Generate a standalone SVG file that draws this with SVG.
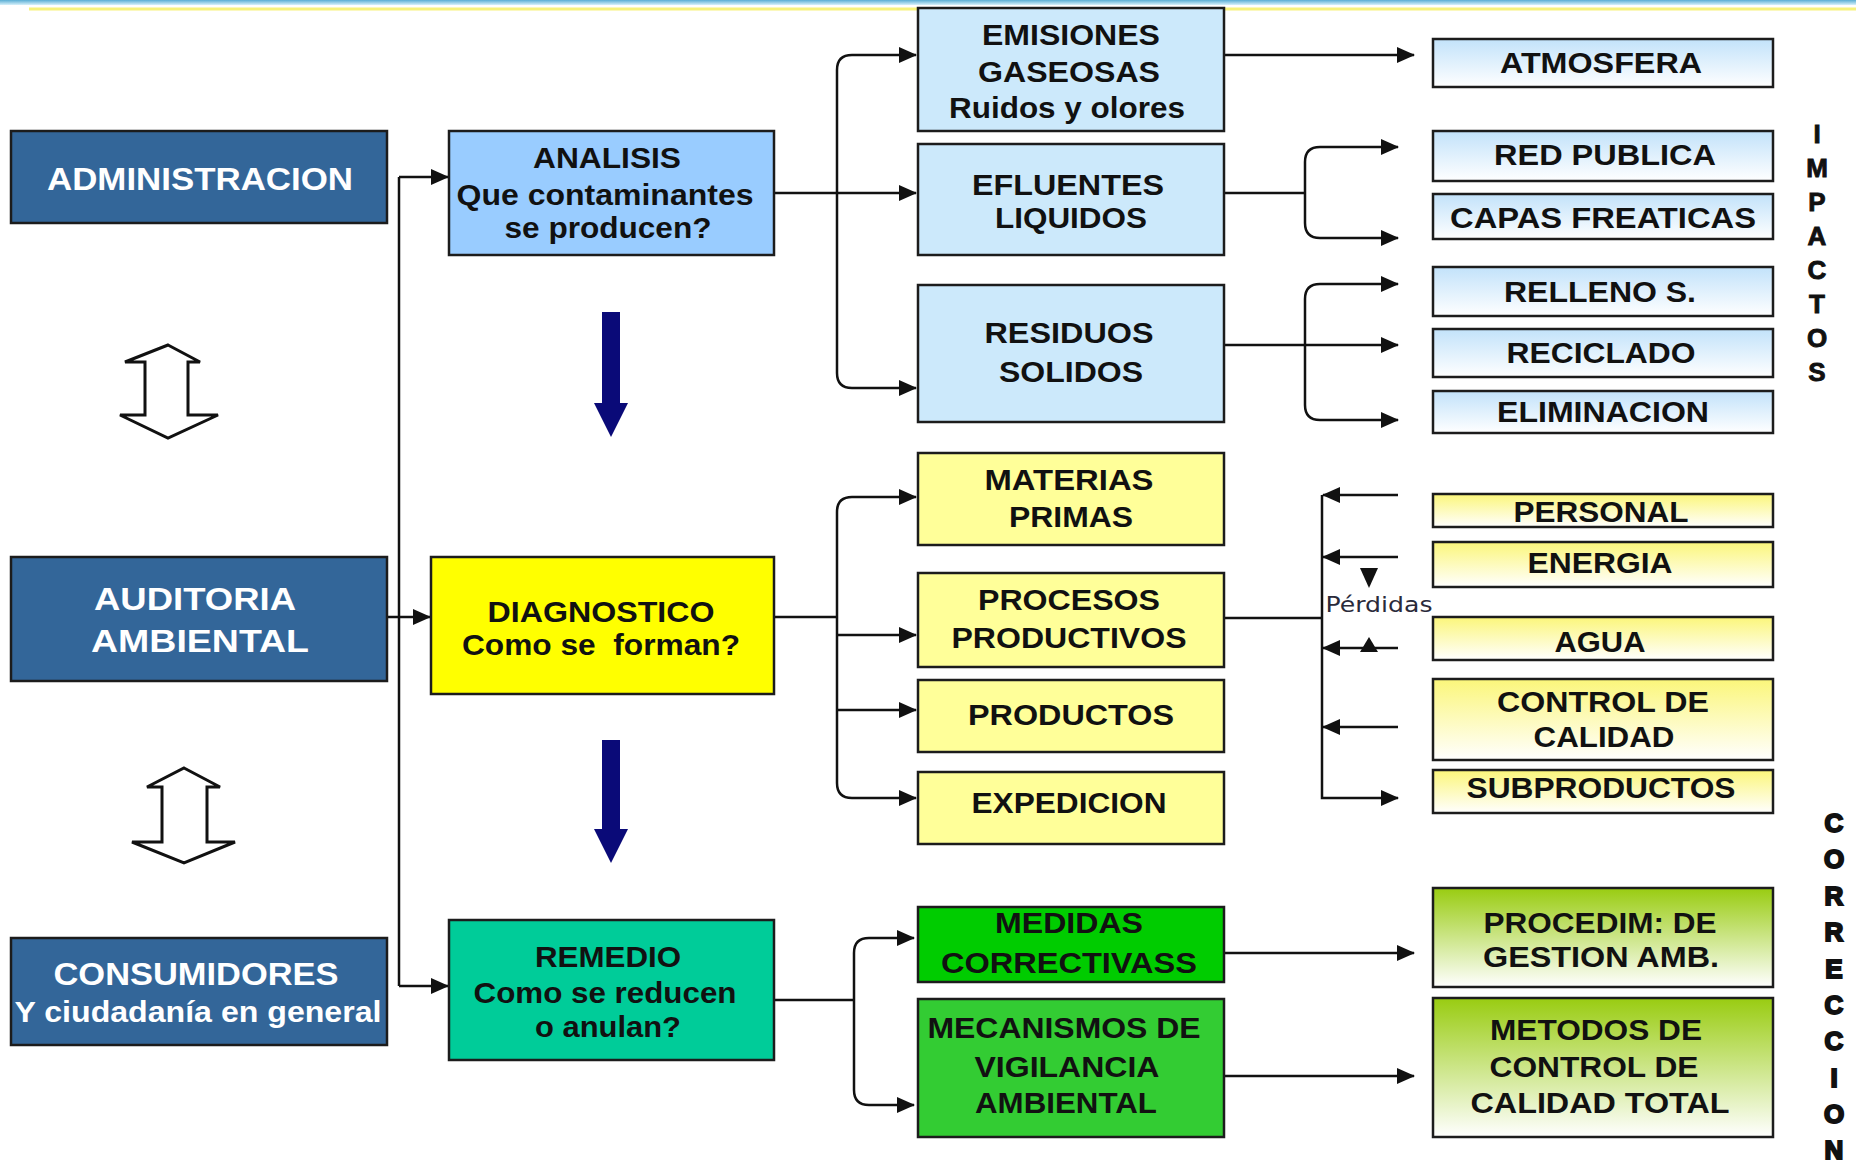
<svg xmlns="http://www.w3.org/2000/svg" width="1856" height="1165" viewBox="0 0 1856 1165">
<style>
.box{stroke:#1c1c1c;stroke-width:2.5}
.t{font-family:"Liberation Sans",Arial,sans-serif;font-weight:bold;font-size:29px;fill:#111;text-anchor:middle}
.w{fill:#ffffff;font-size:32px}
.c{fill:none;stroke:#111;stroke-width:2.5}
.ca{fill:none;stroke:#111;stroke-width:2.5;marker-end:url(#ah)}
.cb{fill:none;stroke:#111;stroke-width:2.5;marker-start:url(#ahs);marker-end:url(#ah)}
.vt{font-family:"Liberation Sans",Arial,sans-serif;font-weight:bold;font-size:26px;fill:#111;text-anchor:middle}
</style>
<defs>
<marker id="ah" markerUnits="userSpaceOnUse" markerWidth="18" markerHeight="16" refX="17" refY="8" orient="auto"><path d="M0,0 L18,8 L0,16 z" fill="#111"/></marker>
<marker id="ahs" markerUnits="userSpaceOnUse" markerWidth="18" markerHeight="16" refX="17" refY="8" orient="auto-start-reverse"><path d="M0,0 L18,8 L0,16 z" fill="#111"/></marker>
<linearGradient id="gBlue" x1="0" y1="0" x2="0" y2="1"><stop offset="0" stop-color="#c2e2fa"/><stop offset="1" stop-color="#ffffff"/></linearGradient>
<linearGradient id="gYel" x1="0" y1="0" x2="0" y2="1"><stop offset="0" stop-color="#fbf67a"/><stop offset="1" stop-color="#ffffff"/></linearGradient>
<linearGradient id="gGrn" x1="0" y1="0" x2="0" y2="1"><stop offset="0" stop-color="#99cc11"/><stop offset="1" stop-color="#ffffff"/></linearGradient>
<linearGradient id="gTop" x1="0" y1="0" x2="0" y2="1"><stop offset="0" stop-color="#5aaed4"/><stop offset="1" stop-color="#d8f1fb"/></linearGradient>
</defs>
<rect x="0" y="0" width="1856" height="1165" fill="#ffffff"/>
<rect x="0" y="0" width="1856" height="5" fill="url(#gTop)"/>
<line x1="29" y1="9" x2="1856" y2="9" stroke="#f7f27c" stroke-width="3"/>

<g id="connectors">
<path class="c" d="M399,177 L399,986"/>
<path class="ca" d="M399,177 L448,177"/>
<path class="ca" d="M399,986 L448,986"/>
<path class="ca" d="M387,617 L430,617"/>
<path class="ca" d="M774,193 L916,193"/>
<path class="cb" d="M916,55 L852,55 Q837,55 837,70 L837,373 Q837,388 852,388 L916,388"/>
<path class="ca" d="M1224,55 L1414,55"/>
<path class="c" d="M1224,193 L1305,193"/>
<path class="cb" d="M1398,147 L1320,147 Q1305,147 1305,162 L1305,223 Q1305,238 1320,238 L1398,238"/>
<path class="ca" d="M1224,345 L1398,345"/>
<path class="cb" d="M1398,284 L1320,284 Q1305,284 1305,299 L1305,405 Q1305,420 1320,420 L1398,420"/>
<path class="c" d="M774,617 L837,617"/>
<path class="cb" d="M916,497 L852,497 Q837,497 837,512 L837,783 Q837,798 852,798 L916,798"/>
<path class="ca" d="M837,635 L916,635"/>
<path class="ca" d="M837,710 L916,710"/>
<path class="c" d="M1224,618 L1322,618"/>
<path class="ca" d="M1322,495 L1322,798 L1398,798"/>
<path class="ca" d="M1398,495 L1323,495"/>
<path class="ca" d="M1398,557 L1323,557"/>
<path class="ca" d="M1398,648 L1323,648"/>
<path class="ca" d="M1398,727 L1323,727"/>
<polygon points="1360,568 1378,568 1369,588" fill="#111"/>
<polygon points="1360,652 1378,652 1369,637" fill="#111"/>
<text x="1379" y="612" font-family="'DejaVu Sans',sans-serif" font-size="22" fill="#2a2a3a" text-anchor="middle" textLength="107" lengthAdjust="spacingAndGlyphs">Pérdidas</text>
<path class="c" d="M774,1000 L854,1000"/>
<path class="cb" d="M914,938 L869,938 Q854,938 854,953 L854,1090 Q854,1105 869,1105 L914,1105"/>
<path class="ca" d="M1224,953 L1414,953"/>
<path class="ca" d="M1224,1076 L1414,1076"/>
<polygon points="602,312 620,312 620,403 628,403 611,437 594,403 602,403" fill="#0a0a78"/>
<polygon points="602,740 620,740 620,829 628,829 611,863 594,829 602,829" fill="#0a0a78"/>
<polygon points="168,345 200,362 188,362 188,415 218,415 168,438 120,415 145,415 145,362 125,362" fill="#ffffff" stroke="#111" stroke-width="3" stroke-linejoin="miter"/>
<polygon points="184,768 220,787 207,787 207,842 235,842 184,863 132,842 162,842 162,787 147,787" fill="#ffffff" stroke="#111" stroke-width="3" stroke-linejoin="miter"/>
</g>

<g id="administracion"><rect class="box" x="11" y="131" width="376" height="92" fill="#336699"/>
<text class="t w" x="200" y="190" textLength="306" lengthAdjust="spacingAndGlyphs">ADMINISTRACION</text></g>
<g id="auditoria"><rect class="box" x="11" y="557" width="376" height="124" fill="#336699"/>
<text class="t w" x="195" y="610" textLength="202" lengthAdjust="spacingAndGlyphs">AUDITORIA</text>
<text class="t w" x="200" y="652" textLength="218" lengthAdjust="spacingAndGlyphs">AMBIENTAL</text></g>
<g id="consumidores"><rect class="box" x="11" y="938" width="376" height="107" fill="#336699"/>
<text class="t w" x="196" y="985" textLength="285" lengthAdjust="spacingAndGlyphs">CONSUMIDORES</text>
<text class="t w" x="198" y="1022" style="font-size:30px" textLength="367" lengthAdjust="spacingAndGlyphs">Y ciudadanía en general</text></g>

<g id="analisis"><rect class="box" x="449" y="131" width="325" height="124" fill="#99ccff"/>
<text class="t" x="607" y="168" textLength="148" lengthAdjust="spacingAndGlyphs">ANALISIS</text>
<text class="t" x="605" y="205" textLength="297" lengthAdjust="spacingAndGlyphs">Que contaminantes</text>
<text class="t" x="608" y="238" textLength="207" lengthAdjust="spacingAndGlyphs">se producen?</text></g>
<g id="diagnostico"><rect class="box" x="431" y="557" width="343" height="137" fill="#ffff00"/>
<text class="t" x="601" y="622" style="font-size:30px" textLength="227" lengthAdjust="spacingAndGlyphs">DIAGNOSTICO</text>
<text class="t" x="601" y="655" style="font-size:30px" textLength="278" lengthAdjust="spacingAndGlyphs">Como se&#160; forman?</text></g>
<g id="remedio"><rect class="box" x="449" y="920" width="325" height="140" fill="#00cc99"/>
<text class="t" x="608" y="967" style="font-size:30px" textLength="146" lengthAdjust="spacingAndGlyphs">REMEDIO</text>
<text class="t" x="605" y="1003" style="font-size:30px" textLength="263" lengthAdjust="spacingAndGlyphs">Como se reducen</text>
<text class="t" x="608" y="1037" style="font-size:30px" textLength="146" lengthAdjust="spacingAndGlyphs">o anulan?</text></g>

<g id="emisiones"><rect class="box" x="918" y="8" width="306" height="123" fill="#cce9fb"/>
<text class="t" x="1071" y="45" textLength="178" lengthAdjust="spacingAndGlyphs">EMISIONES</text>
<text class="t" x="1069" y="82" textLength="182" lengthAdjust="spacingAndGlyphs">GASEOSAS</text>
<text class="t" x="1067" y="118" textLength="236" lengthAdjust="spacingAndGlyphs">Ruidos y olores</text></g>
<g id="efluentes"><rect class="box" x="918" y="144" width="306" height="111" fill="#cce9fb"/>
<text class="t" x="1068" y="195" textLength="192" lengthAdjust="spacingAndGlyphs">EFLUENTES</text>
<text class="t" x="1071" y="228" textLength="152" lengthAdjust="spacingAndGlyphs">LIQUIDOS</text></g>
<g id="residuos"><rect class="box" x="918" y="285" width="306" height="137" fill="#cce9fb"/>
<text class="t" x="1069" y="343" textLength="169" lengthAdjust="spacingAndGlyphs">RESIDUOS</text>
<text class="t" x="1071" y="382" textLength="144" lengthAdjust="spacingAndGlyphs">SOLIDOS</text></g>

<g id="atmosfera"><rect class="box" x="1433" y="39" width="340" height="48" fill="url(#gBlue)"/>
<text class="t" x="1601" y="73" textLength="202" lengthAdjust="spacingAndGlyphs">ATMOSFERA</text></g>
<g id="red-publica"><rect class="box" x="1433" y="131" width="340" height="50" fill="url(#gBlue)"/>
<text class="t" x="1605" y="165" textLength="222" lengthAdjust="spacingAndGlyphs">RED PUBLICA</text></g>
<g id="capas-freaticas"><rect class="box" x="1433" y="194" width="340" height="45" fill="url(#gBlue)"/>
<text class="t" x="1603" y="228" textLength="306" lengthAdjust="spacingAndGlyphs">CAPAS FREATICAS</text></g>
<g id="relleno"><rect class="box" x="1433" y="267" width="340" height="49" fill="url(#gBlue)"/>
<text class="t" x="1600" y="302" textLength="192" lengthAdjust="spacingAndGlyphs">RELLENO S.</text></g>
<g id="reciclado"><rect class="box" x="1433" y="329" width="340" height="48" fill="url(#gBlue)"/>
<text class="t" x="1601" y="363" textLength="189" lengthAdjust="spacingAndGlyphs">RECICLADO</text></g>
<g id="eliminacion"><rect class="box" x="1433" y="391" width="340" height="42" fill="url(#gBlue)"/>
<text class="t" x="1603" y="422" textLength="212" lengthAdjust="spacingAndGlyphs">ELIMINACION</text></g>

<g id="materias"><rect class="box" x="918" y="453" width="306" height="92" fill="#ffff99"/>
<text class="t" x="1069" y="490" textLength="169" lengthAdjust="spacingAndGlyphs">MATERIAS</text>
<text class="t" x="1071" y="527" textLength="124" lengthAdjust="spacingAndGlyphs">PRIMAS</text></g>
<g id="procesos"><rect class="box" x="918" y="573" width="306" height="94" fill="#ffff99"/>
<text class="t" x="1069" y="610" textLength="182" lengthAdjust="spacingAndGlyphs">PROCESOS</text>
<text class="t" x="1069" y="648" textLength="235" lengthAdjust="spacingAndGlyphs">PRODUCTIVOS</text></g>
<g id="productos"><rect class="box" x="918" y="680" width="306" height="72" fill="#ffff99"/>
<text class="t" x="1071" y="725" textLength="206" lengthAdjust="spacingAndGlyphs">PRODUCTOS</text></g>
<g id="expedicion"><rect class="box" x="918" y="772" width="306" height="72" fill="#ffff99"/>
<text class="t" x="1069" y="813" textLength="195" lengthAdjust="spacingAndGlyphs">EXPEDICION</text></g>

<g id="personal"><rect class="box" x="1433" y="494" width="340" height="33" fill="url(#gYel)"/>
<text class="t" x="1601" y="522" textLength="175" lengthAdjust="spacingAndGlyphs">PERSONAL</text></g>
<g id="energia"><rect class="box" x="1433" y="542" width="340" height="45" fill="url(#gYel)"/>
<text class="t" x="1600" y="573" textLength="145" lengthAdjust="spacingAndGlyphs">ENERGIA</text></g>
<g id="agua"><rect class="box" x="1433" y="617" width="340" height="43" fill="url(#gYel)"/>
<text class="t" x="1600" y="652" textLength="91" lengthAdjust="spacingAndGlyphs">AGUA</text></g>
<g id="control-calidad"><rect class="box" x="1433" y="679" width="340" height="81" fill="url(#gYel)"/>
<text class="t" x="1603" y="712" textLength="212" lengthAdjust="spacingAndGlyphs">CONTROL DE</text>
<text class="t" x="1604" y="747" textLength="141" lengthAdjust="spacingAndGlyphs">CALIDAD</text></g>
<g id="subproductos"><rect class="box" x="1433" y="770" width="340" height="43" fill="url(#gYel)"/>
<text class="t" x="1601" y="798" textLength="269" lengthAdjust="spacingAndGlyphs">SUBPRODUCTOS</text></g>

<g id="medidas"><rect class="box" x="918" y="907" width="306" height="75" fill="#00cc00"/>
<text class="t" x="1069" y="933" textLength="148" lengthAdjust="spacingAndGlyphs">MEDIDAS</text>
<text class="t" x="1069" y="973" textLength="256" lengthAdjust="spacingAndGlyphs">CORRECTIVASS</text></g>
<g id="mecanismos"><rect class="box" x="918" y="999" width="306" height="138" fill="#33cc33"/>
<text class="t" x="1064" y="1038" textLength="273" lengthAdjust="spacingAndGlyphs">MECANISMOS DE</text>
<text class="t" x="1067" y="1077" textLength="185" lengthAdjust="spacingAndGlyphs">VIGILANCIA</text>
<text class="t" x="1066" y="1113" textLength="182" lengthAdjust="spacingAndGlyphs">AMBIENTAL</text></g>

<g id="procedim"><rect class="box" x="1433" y="888" width="340" height="99" fill="url(#gGrn)"/>
<text class="t" x="1600" y="933" textLength="233" lengthAdjust="spacingAndGlyphs">PROCEDIM: DE</text>
<text class="t" x="1601" y="967" textLength="236" lengthAdjust="spacingAndGlyphs">GESTION AMB.</text></g>
<g id="metodos"><rect class="box" x="1433" y="998" width="340" height="139" fill="url(#gGrn)"/>
<text class="t" x="1596" y="1040" textLength="212" lengthAdjust="spacingAndGlyphs">METODOS DE</text>
<text class="t" x="1594" y="1077" textLength="209" lengthAdjust="spacingAndGlyphs">CONTROL DE</text>
<text class="t" x="1600" y="1113" textLength="259" lengthAdjust="spacingAndGlyphs">CALIDAD TOTAL</text></g>

<g id="impactos"><text class="vt" style="stroke:#111;stroke-width:0.9"><tspan x="1817" y="143">I</tspan><tspan x="1817" y="177">M</tspan><tspan x="1817" y="211">P</tspan><tspan x="1817" y="245">A</tspan><tspan x="1817" y="279">C</tspan><tspan x="1817" y="313">T</tspan><tspan x="1817" y="347">O</tspan><tspan x="1817" y="381">S</tspan></text></g>
<g id="correccion"><text class="vt" style="stroke:#111;stroke-width:2"><tspan x="1834" y="832">C</tspan><tspan x="1834" y="868">O</tspan><tspan x="1834" y="905">R</tspan><tspan x="1834" y="941">R</tspan><tspan x="1834" y="978">E</tspan><tspan x="1834" y="1014">C</tspan><tspan x="1834" y="1050">C</tspan><tspan x="1834" y="1087">I</tspan><tspan x="1834" y="1123">O</tspan><tspan x="1834" y="1159">N</tspan></text></g>
</svg>
